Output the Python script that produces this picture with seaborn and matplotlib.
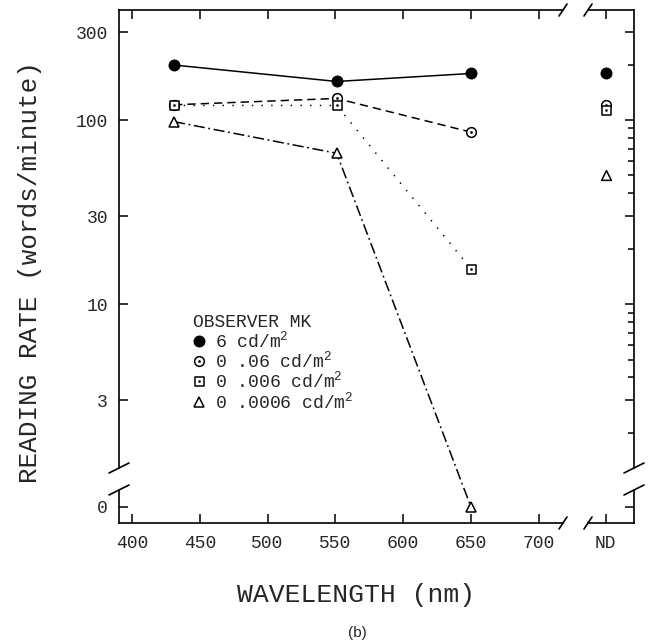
import numpy as np
import pandas as pd
import matplotlib
matplotlib.use("Agg")
import matplotlib.pyplot as plt
import seaborn as sns
from matplotlib.lines import Line2D
from matplotlib.path import Path
from matplotlib.ticker import FixedLocator, NullFormatter

# ---------------- data ----------------
wavelengths = [431, 551, 650]
rate_6 = [199, 162, 179]
rate_0p06 = [121, 131, 86]
rate_0p006 = [120, 120, 15.6]
rate_0p0006 = [98, 66, 0]
nd_category = ["ND"]
nd_6 = [181]
nd_0p06 = [120]
nd_0p006 = [113]
nd_0p0006 = [50]
series_labels = ["6 cd/m$^2$", "0 .06 cd/m$^2$", "0 .006 cd/m$^2$", "0 .0006 cd/m$^2$"]
legend_title = "OBSERVER MK"
x_ticks = [400, 450, 500, 550, 600, 650, 700]
y_major = [0, 3, 10, 30, 100, 300]
y_major_labels = ["0", "3", "10", "30", "100", "300"]
y_minor = [2, 4, 5, 6, 7, 8, 9, 20, 40, 50, 60, 70, 80, 90, 200]

# ---------------- style ----------------
sns.set_style("white")
MONO = "Liberation Mono"
plt.rcParams["font.family"] = [MONO, "DejaVu Sans"]
plt.rcParams["mathtext.fontset"] = "custom"
plt.rcParams["mathtext.rm"] = MONO
plt.rcParams["mathtext.default"] = "regular"
plt.rcParams["lines.scale_dashes"] = False

W, H = 650, 644
fig = plt.figure(figsize=(W / 100, H / 100), dpi=100)


def rect(l, r, t, b):
    return [l / W, 1 - b / H, (r - l) / W, (b - t) / H]


ax = fig.add_axes(rect(119, 563, 10, 523))
axn = fig.add_axes(rect(588, 634, 10, 523))

# broken log scale: log above C, linear stretch for [0, C)
C = 1.5
F0 = -0.0995
SLOPE = (np.log10(C) - F0) / C


def fwd(v):
    v = np.asarray(v, dtype=float)
    safe = np.where(v > C, v, C)
    return np.where(v >= C, np.log10(safe), F0 + SLOPE * v)


def inv(f):
    f = np.asarray(f, dtype=float)
    lc = np.log10(C)
    safe = np.clip(np.where(f >= lc, f, lc), -10, 10)
    return np.where(f >= lc, 10 ** safe, (f - F0) / SLOPE)


for a in (ax, axn):
    a.set_yscale("function", functions=(fwd, inv))
    a.set_ylim(-0.485, 396)
    a.set_facecolor("white")

# ---------------- markers ----------------
circle_dot = Path.make_compound_path(Path.unit_circle(), Path.circle((0, 0), 0.12))
sq = Path([(-1, -1), (1, -1), (1, 1), (-1, 1), (-1, -1)],
          [Path.MOVETO, Path.LINETO, Path.LINETO, Path.LINETO, Path.CLOSEPOLY])
square_dot = Path.make_compound_path(sq, Path.circle((0, 0), 0.12))

styles = [
    dict(ls="-", marker="o", mfc="k", ms=7.5),
    dict(ls=(0, (6, 3.6)), marker=circle_dot, mfc="white", ms=7),
    dict(ls=(0, (1.0, 6.0)), marker=square_dot, mfc="white", ms=6.5),
    dict(ls=(0, (8, 2.6, 1.3, 2.6)), marker="^", mfc="white", ms=7),
]
series = [rate_6, rate_0p06, rate_0p006, rate_0p0006]
nd_values = [nd_6, nd_0p06, nd_0p006, nd_0p0006]

for vals, st in zip(series, styles):
    sns.lineplot(x=wavelengths, y=vals, ax=ax, color="k", linestyle=st["ls"],
                 lw=1.1, marker=st["marker"], markerfacecolor=st["mfc"],
                 markeredgecolor="k", markeredgewidth=1.1, markersize=st["ms"],
                 clip_on=False)

for vals, st in zip(nd_values, styles):
    sns.scatterplot(x=nd_category, y=vals, ax=axn, marker=st["marker"],
                    s=st["ms"] ** 2, facecolor=st["mfc"], edgecolor="k",
                    linewidth=1.1, clip_on=False)

# ---------------- axes / ticks ----------------
ax.set_xlim(390.4, 718)
ax.set_xticks(x_ticks)
ax.set_xticklabels([str(t) for t in x_ticks])
axn.set_xlim(-0.386, 0.614)

for a in (ax, axn):
    a.set_yticks(y_major)
    a.set_yticklabels(y_major_labels)
    a.yaxis.set_minor_locator(FixedLocator(y_minor))
    a.yaxis.set_minor_formatter(NullFormatter())
    a.tick_params(axis="both", which="both", direction="in", color="k", width=1.1)
    a.tick_params(which="major", length=6.5)
    a.tick_params(which="minor", length=4.5)
    a.tick_params(axis="x", top=True, bottom=True, labelsize=13, pad=9)
    a.set_xlabel("")
    a.set_ylabel("")
    for s in a.spines.values():
        s.set_linewidth(1.2)
        s.set_color("k")

ax.tick_params(axis="y", left=True, right=False, labelsize=13, pad=8)
axn.tick_params(axis="y", which="both", left=False, right=True, labelleft=False)
ax.spines["right"].set_visible(False)
ax.spines["left"].set_visible(False)
axn.spines["left"].set_visible(False)
axn.spines["right"].set_visible(False)

# split vertical spines (y-axis break)
yb_lo = (523 - 490) / 513
yb_hi = (523 - 468) / 513
for a, xs in ((ax, 0), (axn, 1)):
    for y0, y1 in ((0, yb_lo), (yb_hi, 1)):
        a.plot([xs, xs], [y0, y1], transform=a.transAxes, color="k", lw=1.2,
               clip_on=False, solid_capstyle="projecting")


def slash(cx, cy, dx, dy):
    fig.add_artist(Line2D([(cx - dx) / W, (cx + dx) / W],
                          [1 - (cy + dy) / H, 1 - (cy - dy) / H],
                          transform=fig.transFigure, color="k", lw=1.2))


for cx in (119, 634):
    for cy in (468, 490):
        slash(cx, cy, 10, 5)
for cx in (563, 588):
    for cy in (10, 523):
        slash(cx, cy, 4, 6)

# ---------------- labels ----------------
ax.set_ylabel("READING RATE (words/minute)", fontsize=18.7)
ax.yaxis.set_label_coords((30 - 119) / 445, (523 - 272) / 513)
ax.yaxis.label.set_va("center")
ax.set_xlabel("WAVELENGTH (nm)", fontsize=19)
ax.xaxis.set_label_coords((357 - 119) / 445, (523 - 595) / 513)
ax.xaxis.label.set_va("center")
fig.text(357 / W, 1 - 633 / H, "(b)", ha="center", va="center",
         family="Liberation Sans", fontsize=11)

# ---------------- legend ----------------
handles = [Line2D([], [], ls="none", marker=st["marker"], mfc=st["mfc"], mec="k",
                  mew=1.1, ms=st["ms"]) for st in styles]
leg = ax.legend(handles, series_labels, title=legend_title, loc="upper left",
                bbox_to_anchor=((193 - 119) / 445, (523 - 314) / 513),
                frameon=False, prop=dict(family=MONO, size=13),
                title_fontproperties=dict(family=MONO, size=13),
                handlelength=0.7, handletextpad=0.5, labelspacing=-0.02,
                borderpad=0, borderaxespad=0, alignment="left")

fig.savefig("out.png", dpi=100, facecolor="white")
